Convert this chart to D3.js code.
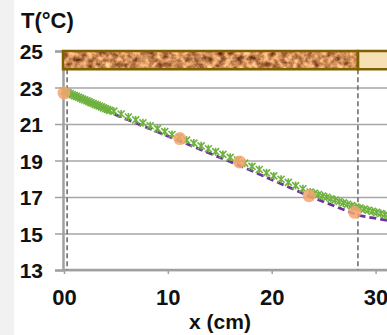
<!DOCTYPE html>
<html>
<head>
<meta charset="utf-8">
<script src="https://cdn.jsdelivr.net/npm/d3@7"></script>
<style>
  body { margin: 0; background: #fff; }
  svg { display: block; font-family: Arial, "Liberation Sans", sans-serif; }
  .tick text { font-weight: bold; fill: #111; }
</style>
</head>
<body>
<div id="chart"></div>
<script>
// measured points (orange circles)
var measX = [0, 11.15, 16.9, 23.6, 28.0];
var measT = [22.7, 20.2, 18.92, 17.07, 16.16];

// model line (purple dashed)
var lineX = [0, 5, 11, 17, 23.6, 28.3, 31.1];
var lineT = [22.7, 21.5, 20.1, 18.7, 17.05, 16.0, 15.72];

// simulation (green star markers)
var simX = [0, 0.2, 0.4, 0.6, 0.8, 1.0, 1.2, 1.4, 1.6, 1.8, 2.0, 2.2, 2.4, 2.6, 2.8, 3.0, 3.2, 3.4, 3.6, 3.8, 4.0, 4.2, 4.4,
            4.8, 5.5, 6.2, 6.9, 7.6, 8.3, 9.0, 9.7, 10.4, 11.1, 11.8, 12.5, 13.2, 13.9, 14.6, 15.3, 16.0, 16.7,
            17.4, 18.1, 18.8, 19.5, 20.2, 20.9, 21.6, 22.3, 23.0, 23.7,
            24.1, 24.5, 24.9, 25.3, 25.7, 26.1, 26.5, 26.9, 27.3, 27.7, 28.1, 28.5, 28.9, 29.3, 29.7, 30.1, 30.5, 30.9, 31.3];
var simT = [22.75, 22.70, 22.65, 22.60, 22.55, 22.50, 22.46, 22.41, 22.36, 22.31, 22.26, 22.22, 22.17, 22.12, 22.07, 22.02, 21.98, 21.93, 21.88, 21.83, 21.78, 21.74, 21.69,
            21.65, 21.49, 21.33, 21.17, 21.01, 20.85, 20.69, 20.53, 20.37, 20.21, 20.06, 19.90, 19.75, 19.59, 19.43, 19.28, 19.12, 18.97,
            18.80, 18.62, 18.45, 18.27, 18.10, 17.92, 17.75, 17.57, 17.40, 17.22,
            17.15, 17.08, 17.00, 16.93, 16.85, 16.78, 16.70, 16.62, 16.55, 16.47, 16.40, 16.34, 16.28, 16.22, 16.16, 16.10, 16.04, 15.98, 15.92];

var yTicks = [13, 15, 17, 19, 21, 23, 25];
var xTicks = [0, 10, 20, 30];
var xTickLabels = ["00", "10", "20", "30"];

// material layers at top, x range in cm
var layerStart = [0, 28.3];
var layerEnd = [28.3, 32];
var interfaces = [0.3, 28.3];

var W = 387, H = 335;
var x = d3.scaleLinear().domain([0, 31.1]).range([64, 387]);
var y = d3.scaleLinear().domain([13, 25]).range([270, 51]);

var svg = d3.select("#chart").append("svg")
    .attr("width", W)
    .attr("height", H);

var defs = svg.append("defs");
var cork = defs.append("filter")
    .attr("id", "cork")
    .attr("x", 0).attr("y", 0).attr("width", 1).attr("height", 1)
    .attr("color-interpolation-filters", "sRGB");
cork.append("feTurbulence")
    .attr("type", "fractalNoise")
    .attr("baseFrequency", 0.16)
    .attr("numOctaves", 3)
    .attr("seed", 7);
cork.append("feColorMatrix")
    .attr("type", "matrix")
    .attr("values", "1.1 0 0 0 0.24  1.0 0 0 0 0.04  0.8 0 0 0 -0.06  0 0 0 0 1");

// light strip at the left edge
svg.append("rect")
    .attr("x", 0).attr("y", 0)
    .attr("width", 14).attr("height", H)
    .attr("fill", "#f1f1f1");

// gridlines
svg.append("g")
    .attr("class", "grid")
    .attr("transform", "translate(64,0)")
    .call(d3.axisLeft(y).tickValues(yTicks).tickSize(-(W - 64)).tickFormat(""))
    .call(function(g) { g.select(".domain").remove(); })
    .selectAll("line")
    .attr("stroke", "#a6a6a6")
    .attr("stroke-width", 1.5);

// y axis
var yAxis = svg.append("g")
    .attr("transform", "translate(63,0)")
    .call(d3.axisLeft(y).tickValues(yTicks).tickSize(8).tickPadding(12).tickFormat(d3.format("d")));
yAxis.select(".domain").attr("stroke", "#a0a0a0").attr("stroke-width", 2.5);
yAxis.selectAll(".tick line").attr("stroke", "#a0a0a0").attr("stroke-width", 1.5);
yAxis.selectAll(".tick text").attr("font-size", 21).attr("dy", "0.36em");

// x axis
var xAxis = svg.append("g")
    .attr("transform", "translate(0,270)")
    .call(d3.axisBottom(x).tickValues(xTicks).tickSize(4).tickPadding(15)
        .tickFormat(function(d, i) { return xTickLabels[i]; }));
xAxis.select(".domain").attr("d", "M63," + 0 + "H" + W).attr("stroke", "#a0a0a0").attr("stroke-width", 2.5);
xAxis.selectAll(".tick line").attr("stroke", "#a0a0a0").attr("stroke-width", 1.5);
xAxis.selectAll(".tick text").attr("font-size", 22);

// interface dashed lines
svg.selectAll(".iface")
    .data(interfaces)
    .enter().append("line")
    .attr("class", "iface")
    .attr("x1", function(d) { return x(d); })
    .attr("x2", function(d) { return x(d); })
    .attr("y1", y(24))
    .attr("y2", y(13))
    .attr("stroke", "#6f6f6f")
    .attr("stroke-width", 1.6)
    .attr("stroke-dasharray", "5,3");

// layers at the top
svg.append("rect")
    .attr("x", x(layerStart[0]) - 1).attr("y", y(25))
    .attr("width", x(layerEnd[0]) - x(layerStart[0]) + 1)
    .attr("height", y(24) - y(25))
    .attr("filter", "url(#cork)");
svg.append("rect")
    .attr("x", x(layerStart[1])).attr("y", y(25))
    .attr("width", x(layerEnd[1]) - x(layerStart[1]))
    .attr("height", y(24) - y(25))
    .attr("fill", "#f6e1b6");
svg.selectAll(".layer")
    .data(layerStart)
    .enter().append("rect")
    .attr("class", "layer")
    .attr("x", function(d, i) { return x(d) - (i === 0 ? 1 : 0); })
    .attr("y", y(25))
    .attr("width", function(d, i) { return x(layerEnd[i]) - x(d) + (i === 0 ? 1 : 0); })
    .attr("height", y(24) - y(25))
    .attr("fill", "none")
    .attr("stroke", "#7f6000")
    .attr("stroke-width", 2.5);

// purple dashed model line
var valueline = d3.line()
    .x(function(d, i) { return x(lineX[i]); })
    .y(function(d) { return y(d); });
svg.append("path")
    .datum(lineT)
    .attr("d", valueline)
    .attr("fill", "none")
    .attr("stroke", "#7030a0")
    .attr("stroke-width", 2.8)
    .attr("stroke-dasharray", "7,4");

// green star markers
var star = "M-3.5,-3.5L3.5,3.5M-3.5,3.5L3.5,-3.5M0,-4V4";
svg.append("g")
    .selectAll("path")
    .data(simT)
    .enter().append("path")
    .attr("transform", function(d, i) { return "translate(" + x(simX[i]) + "," + (y(d) - 1) + ")"; })
    .attr("d", star)
    .attr("fill", "none")
    .attr("stroke", "#6fb23f")
    .attr("stroke-width", 1.6);

// orange measured points
svg.append("g")
    .selectAll("circle")
    .data(measT)
    .enter().append("circle")
    .attr("cx", function(d, i) { return x(measX[i]); })
    .attr("cy", function(d) { return y(d); })
    .attr("r", 6.5)
    .attr("fill", "#f4a46e")
    .attr("fill-opacity", 0.85);

// titles
svg.append("text")
    .attr("x", 21).attr("y", 28)
    .attr("font-size", 22)
    .attr("font-weight", "bold")
    .attr("fill", "#111")
    .text("T(°C)");

svg.append("text")
    .attr("x", 220).attr("y", 329)
    .attr("text-anchor", "middle")
    .attr("font-size", 21)
    .attr("font-weight", "bold")
    .attr("fill", "#111")
    .text("x (cm)");
</script>
</body>
</html>
